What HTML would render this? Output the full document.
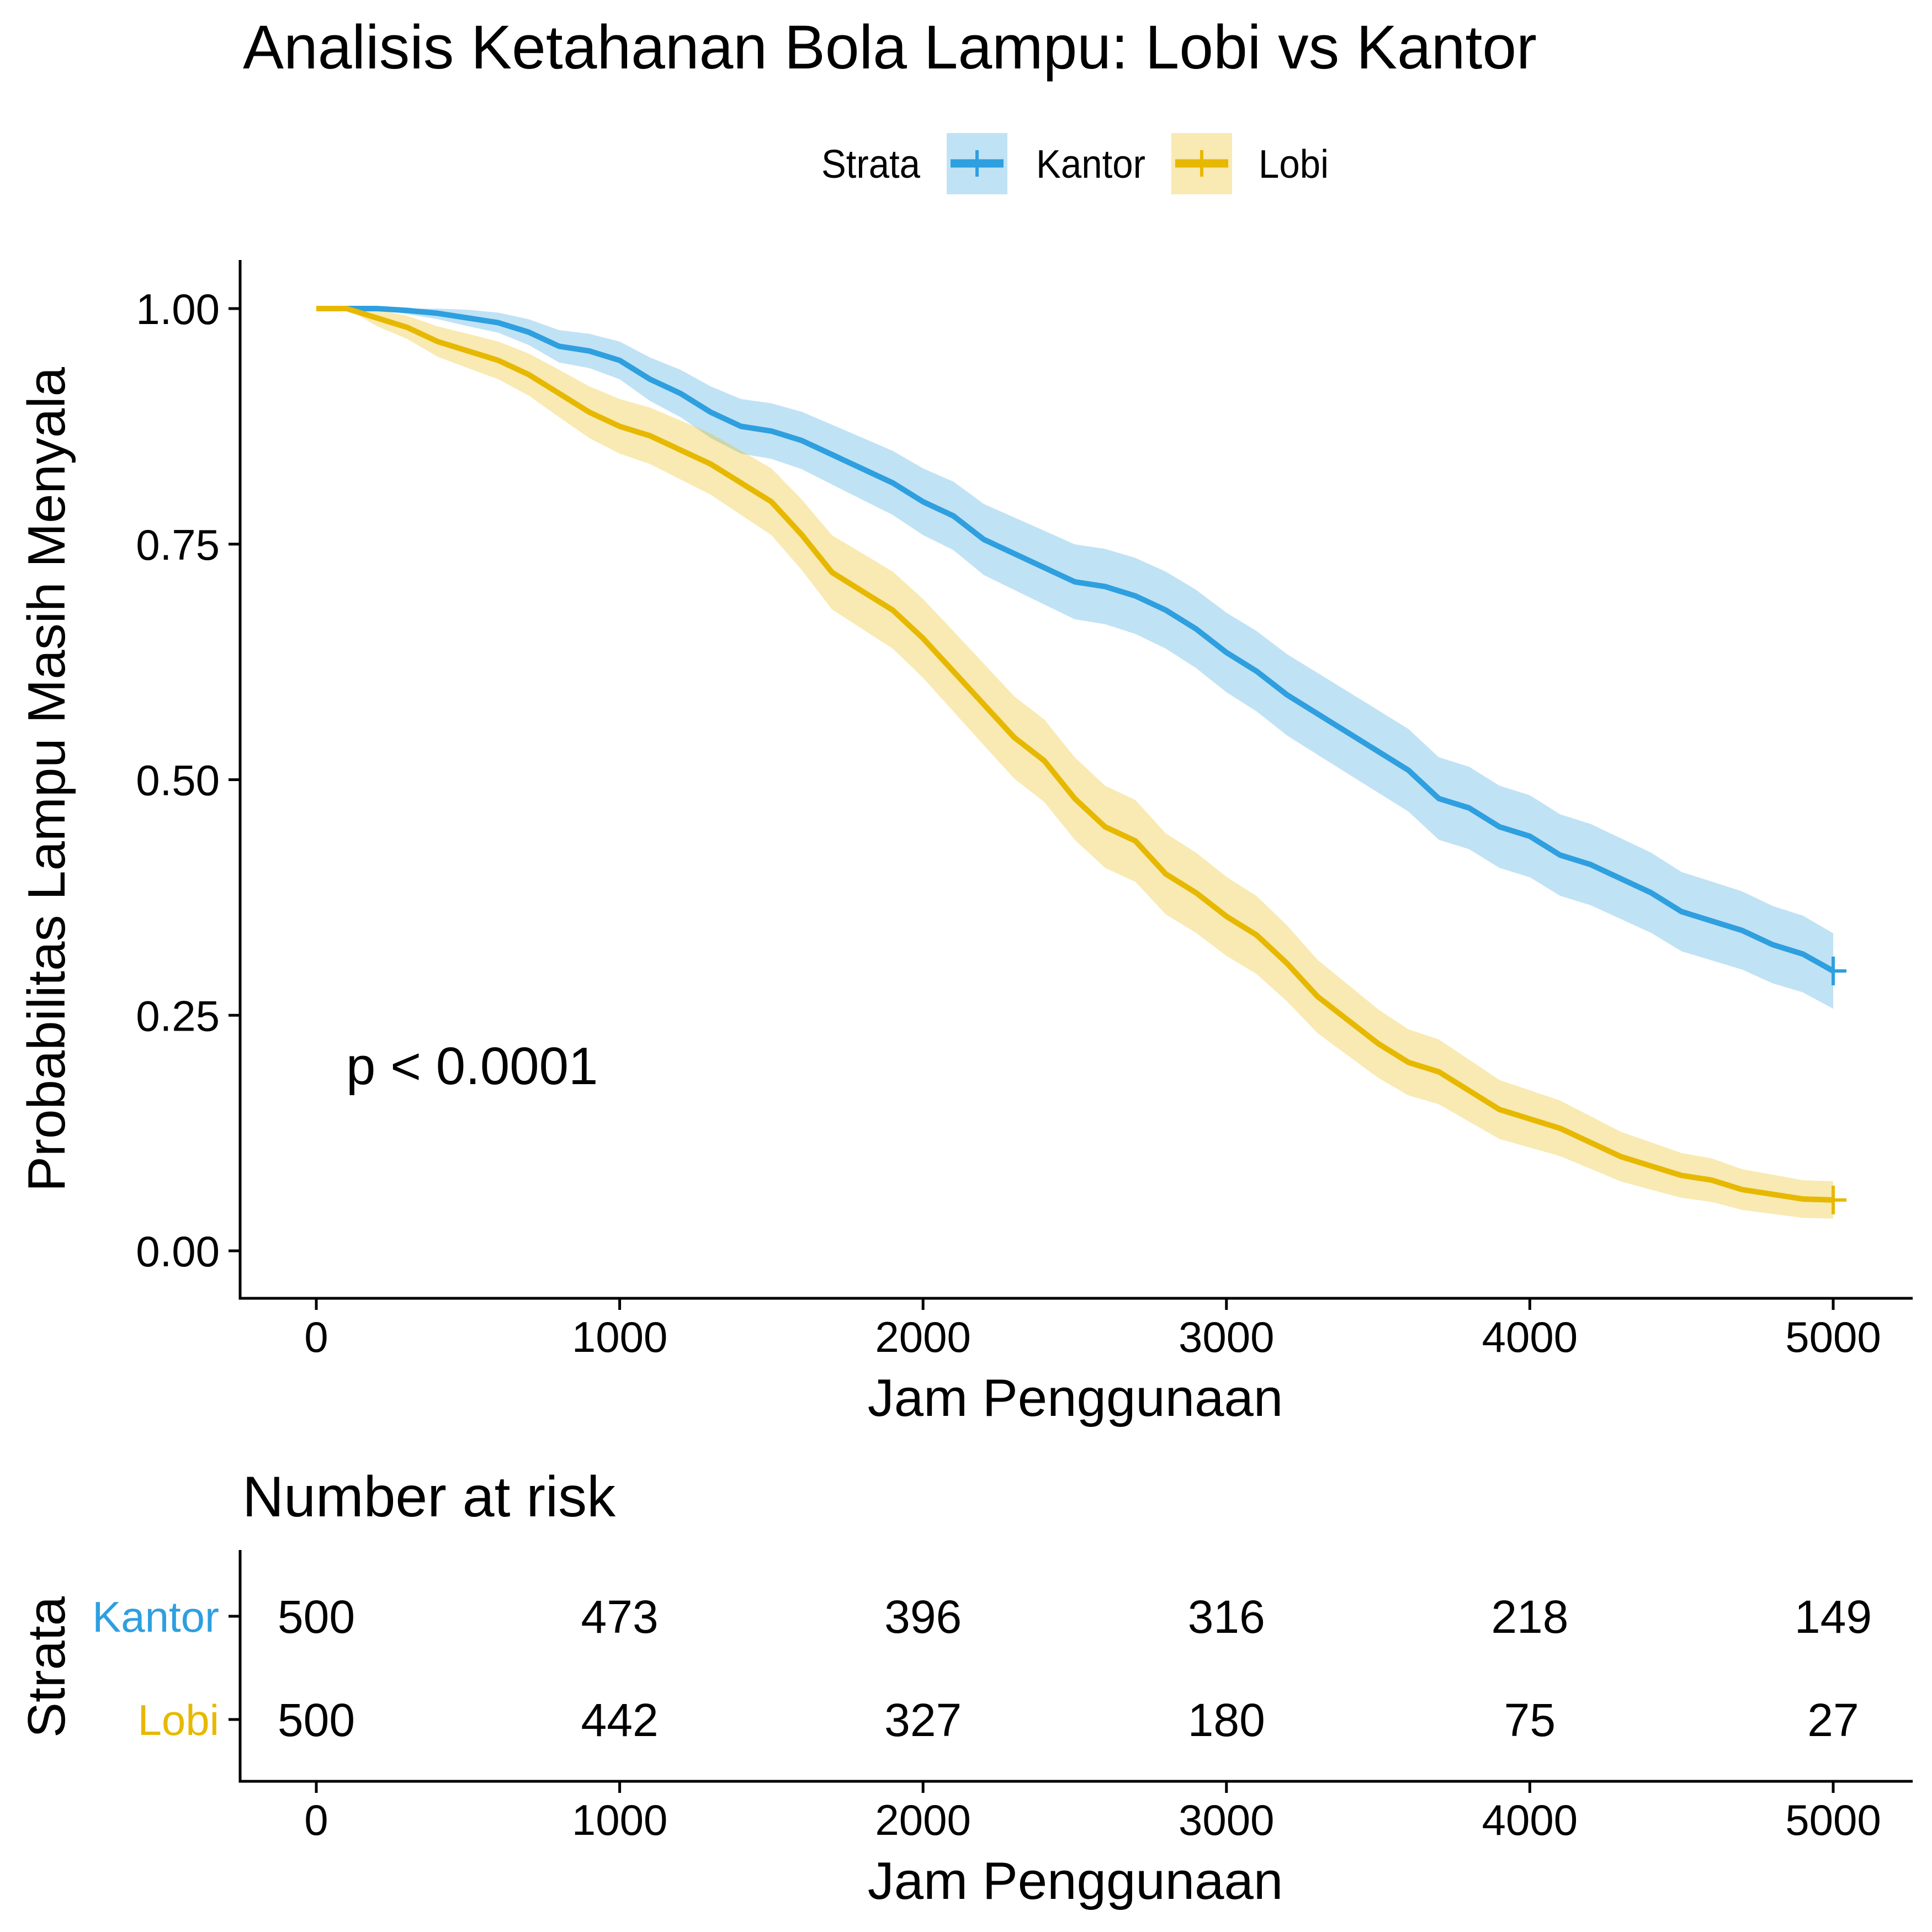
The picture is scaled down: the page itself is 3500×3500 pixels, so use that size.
<!DOCTYPE html>
<html><head><meta charset="utf-8"><style>
html,body{margin:0;padding:0;background:#fff}
svg{display:block;font-family:"Liberation Sans",Arial,sans-serif}
</style></head><body>
<svg id="chart" width="3500" height="3500" viewBox="0 0 3500 3500" xmlns="http://www.w3.org/2000/svg">
<rect width="3500" height="3500" fill="#fff"/>
<text x="440" y="124" font-size="112" textLength="2344" lengthAdjust="spacingAndGlyphs">Analisis Ketahanan Bola Lampu: Lobi vs Kantor</text>
<g>
<text x="1488" y="322" font-size="72" textLength="179" lengthAdjust="spacingAndGlyphs">Strata</text>
<g>
<rect x="1715" y="241" width="110" height="111" fill="#2E9FDF" fill-opacity="0.3"/>
<line x1="1722" y1="296" x2="1818" y2="296" stroke="#2E9FDF" stroke-width="15"/>
<line x1="1770" y1="272" x2="1770" y2="320" stroke="#2E9FDF" stroke-width="6"/>
<text x="1877" y="322" font-size="72" textLength="198" lengthAdjust="spacingAndGlyphs">Kantor</text>
</g>
<g>
<rect x="2122" y="241" width="110" height="111" fill="#E7B800" fill-opacity="0.3"/>
<line x1="2129" y1="296" x2="2225" y2="296" stroke="#E7B800" stroke-width="15"/>
<line x1="2177" y1="272" x2="2177" y2="320" stroke="#E7B800" stroke-width="6"/>
<text x="2280" y="322" font-size="72" textLength="127" lengthAdjust="spacingAndGlyphs">Lobi</text>
</g>
</g>
<g id="plot"></g>
<g id="risk"></g>
</svg>
<script>
const times = [0,100,200,300,400,500,600,700,800,900,1000,1100,1200,1300,1400,1500,1600,1700,1800,1900,2000,2100,2200,2300,2400,2500,2600,2700,2800,2900,3000,3100,3200,3300,3400,3500,3600,3700,3800,3900,4000,4100,4200,4300,4400,4500,4600,4700,4800,4900,5000];
const kantorSurv = [1,1,1,0.998,0.995,0.99,0.985,0.975,0.96,0.955,0.945,0.925,0.91,0.89,0.875,0.87,0.86,0.845,0.83,0.815,0.795,0.78,0.755,0.74,0.725,0.71,0.705,0.695,0.68,0.66,0.635,0.615,0.59,0.57,0.55,0.53,0.51,0.48,0.47,0.45,0.44,0.42,0.41,0.395,0.38,0.36,0.35,0.34,0.325,0.315,0.297];
const lobiSurv = [1,1,0.99,0.98,0.965,0.955,0.945,0.93,0.91,0.89,0.875,0.865,0.85,0.835,0.815,0.795,0.76,0.72,0.7,0.68,0.65,0.615,0.58,0.545,0.52,0.48,0.45,0.435,0.4,0.38,0.355,0.335,0.305,0.27,0.245,0.22,0.2,0.19,0.17,0.15,0.14,0.13,0.115,0.1,0.09,0.08,0.075,0.065,0.06,0.055,0.054];
const xTicks = [0,1000,2000,3000,4000,5000];
const yTicks = [0,0.25,0.5,0.75,1];
const yTickLabels = ["0.00","0.25","0.50","0.75","1.00"];
const riskKantor = [500,473,396,316,218,149];
const riskLobi = [500,442,327,180,75,27];
const strataNames = ["Kantor","Lobi"];

const NS="http://www.w3.org/2000/svg";
const X0=573, X1=3321;
const xs = t => X0 + (t/5000)*(X1-X0);
const ys = p => 2266 - p*(2266-559);
function mk(tag, attrs, parent, txt){
  const e=document.createElementNS(NS,tag);
  for(const k in attrs) e.setAttribute(k, attrs[k]);
  if(txt!==undefined) e.textContent=txt;
  parent.appendChild(e); return e;
}
const plot=document.getElementById('plot');
const risk=document.getElementById('risk');

function band(surv, color, name){
  const up=[], lo=[];
  surv.forEach((s,i)=>{
    const h=1.96*Math.sqrt(Math.max(s*(1-s),0)/500);
    up.push([xs(times[i]), ys(Math.min(1,s+h))]);
    lo.push([xs(times[i]), ys(Math.max(0,s-h))]);
  });
  const pts=up.concat(lo.reverse()).map(p=>p.join(',')).join(' ');
  const e=mk('polygon',{points:pts,fill:color,'fill-opacity':0.3},plot);
  
  
}
function curve(surv, color, name){
  const pts=surv.map((s,i)=>xs(times[i])+','+ys(s)).join(' ');
  const e=mk('polyline',{points:pts,fill:'none',stroke:color,'stroke-width':10,'stroke-linejoin':'round'},plot);
  
  
  const last=surv[surv.length-1], tx=xs(times[times.length-1]), ty=ys(last);
  const c=mk('path',{d:`M${tx-6} ${ty}H${tx+24}M${tx} ${ty-26}V${ty+26}`,stroke:color,'stroke-width':6,fill:'none'},plot);
  
  
}
band(kantorSurv,'#2E9FDF','kantor-ci-band');
band(lobiSurv,'#E7B800','lobi-ci-band');
curve(kantorSurv,'#2E9FDF','kantor-curve');
curve(lobiSurv,'#E7B800','lobi-curve');

// axes main
let a=mk('path',{d:'M435 471V2352H3465',stroke:'#000','stroke-width':5,fill:'none'},plot);


yTicks.forEach((v,i)=>{
  const y=ys(v);
  const t=mk('line',{x1:414,y1:y,x2:435,y2:y,stroke:'#000','stroke-width':5},plot);
  
  
  const l=mk('text',{x:398,y:y+28,'font-size':78,'text-anchor':'end'},plot,yTickLabels[i]);
  
  
});
function xAxis(parent, yAxis, labY, titleY){
  xTicks.forEach(v=>{
    const x=xs(v);
    const t=mk('line',{x1:x,y1:yAxis,x2:x,y2:yAxis+21,stroke:'#000','stroke-width':5},parent);
    
    
    const l=mk('text',{x:x,y:labY,'font-size':78,'text-anchor':'middle'},parent,String(v));
    
    
  });
  const tt=mk('text',{x:1948,y:titleY,'font-size':96,'text-anchor':'middle'},parent,'Jam Penggunaan');
  
  
}
xAxis(plot,2352,2449,2565);
let yt=mk('text',{x:0,y:0,'font-size':96,'text-anchor':'middle',transform:'translate(117,1412) rotate(-90)'},plot,'Probabilitas Lampu Masih Menyala');


let pv=mk('text',{x:627,y:1964,'font-size':96},plot,'p < 0.0001');



// risk table
let rt=mk('text',{x:439,y:2747,'font-size':104},risk,'Number at risk');


let ra=mk('path',{d:'M435 2808V3227H3465',stroke:'#000','stroke-width':5,fill:'none'},risk);


const rows=[[riskKantor,2928,'#2E9FDF'],[riskLobi,3115,'#E7B800']];
rows.forEach((r,ri)=>{
  const [vals,y,col]=r;
  const tk=mk('line',{x1:414,y1:y,x2:435,y2:y,stroke:'#000','stroke-width':5},risk);
  
  
  const lb=mk('text',{x:397,y:y+28,'font-size':78,'text-anchor':'end',fill:col},risk,strataNames[ri]);
  
  
  vals.forEach((v,i)=>{
    const c=mk('text',{x:xs(xTicks[i]),y:y+30,'font-size':84,'text-anchor':'middle'},risk,String(v));
    
    
  });
});
xAxis(risk,3227,3324,3440);
let st=mk('text',{x:0,y:0,'font-size':96,'text-anchor':'middle',transform:'translate(117,3020) rotate(-90)'},risk,'Strata');


</script>
</body></html>
